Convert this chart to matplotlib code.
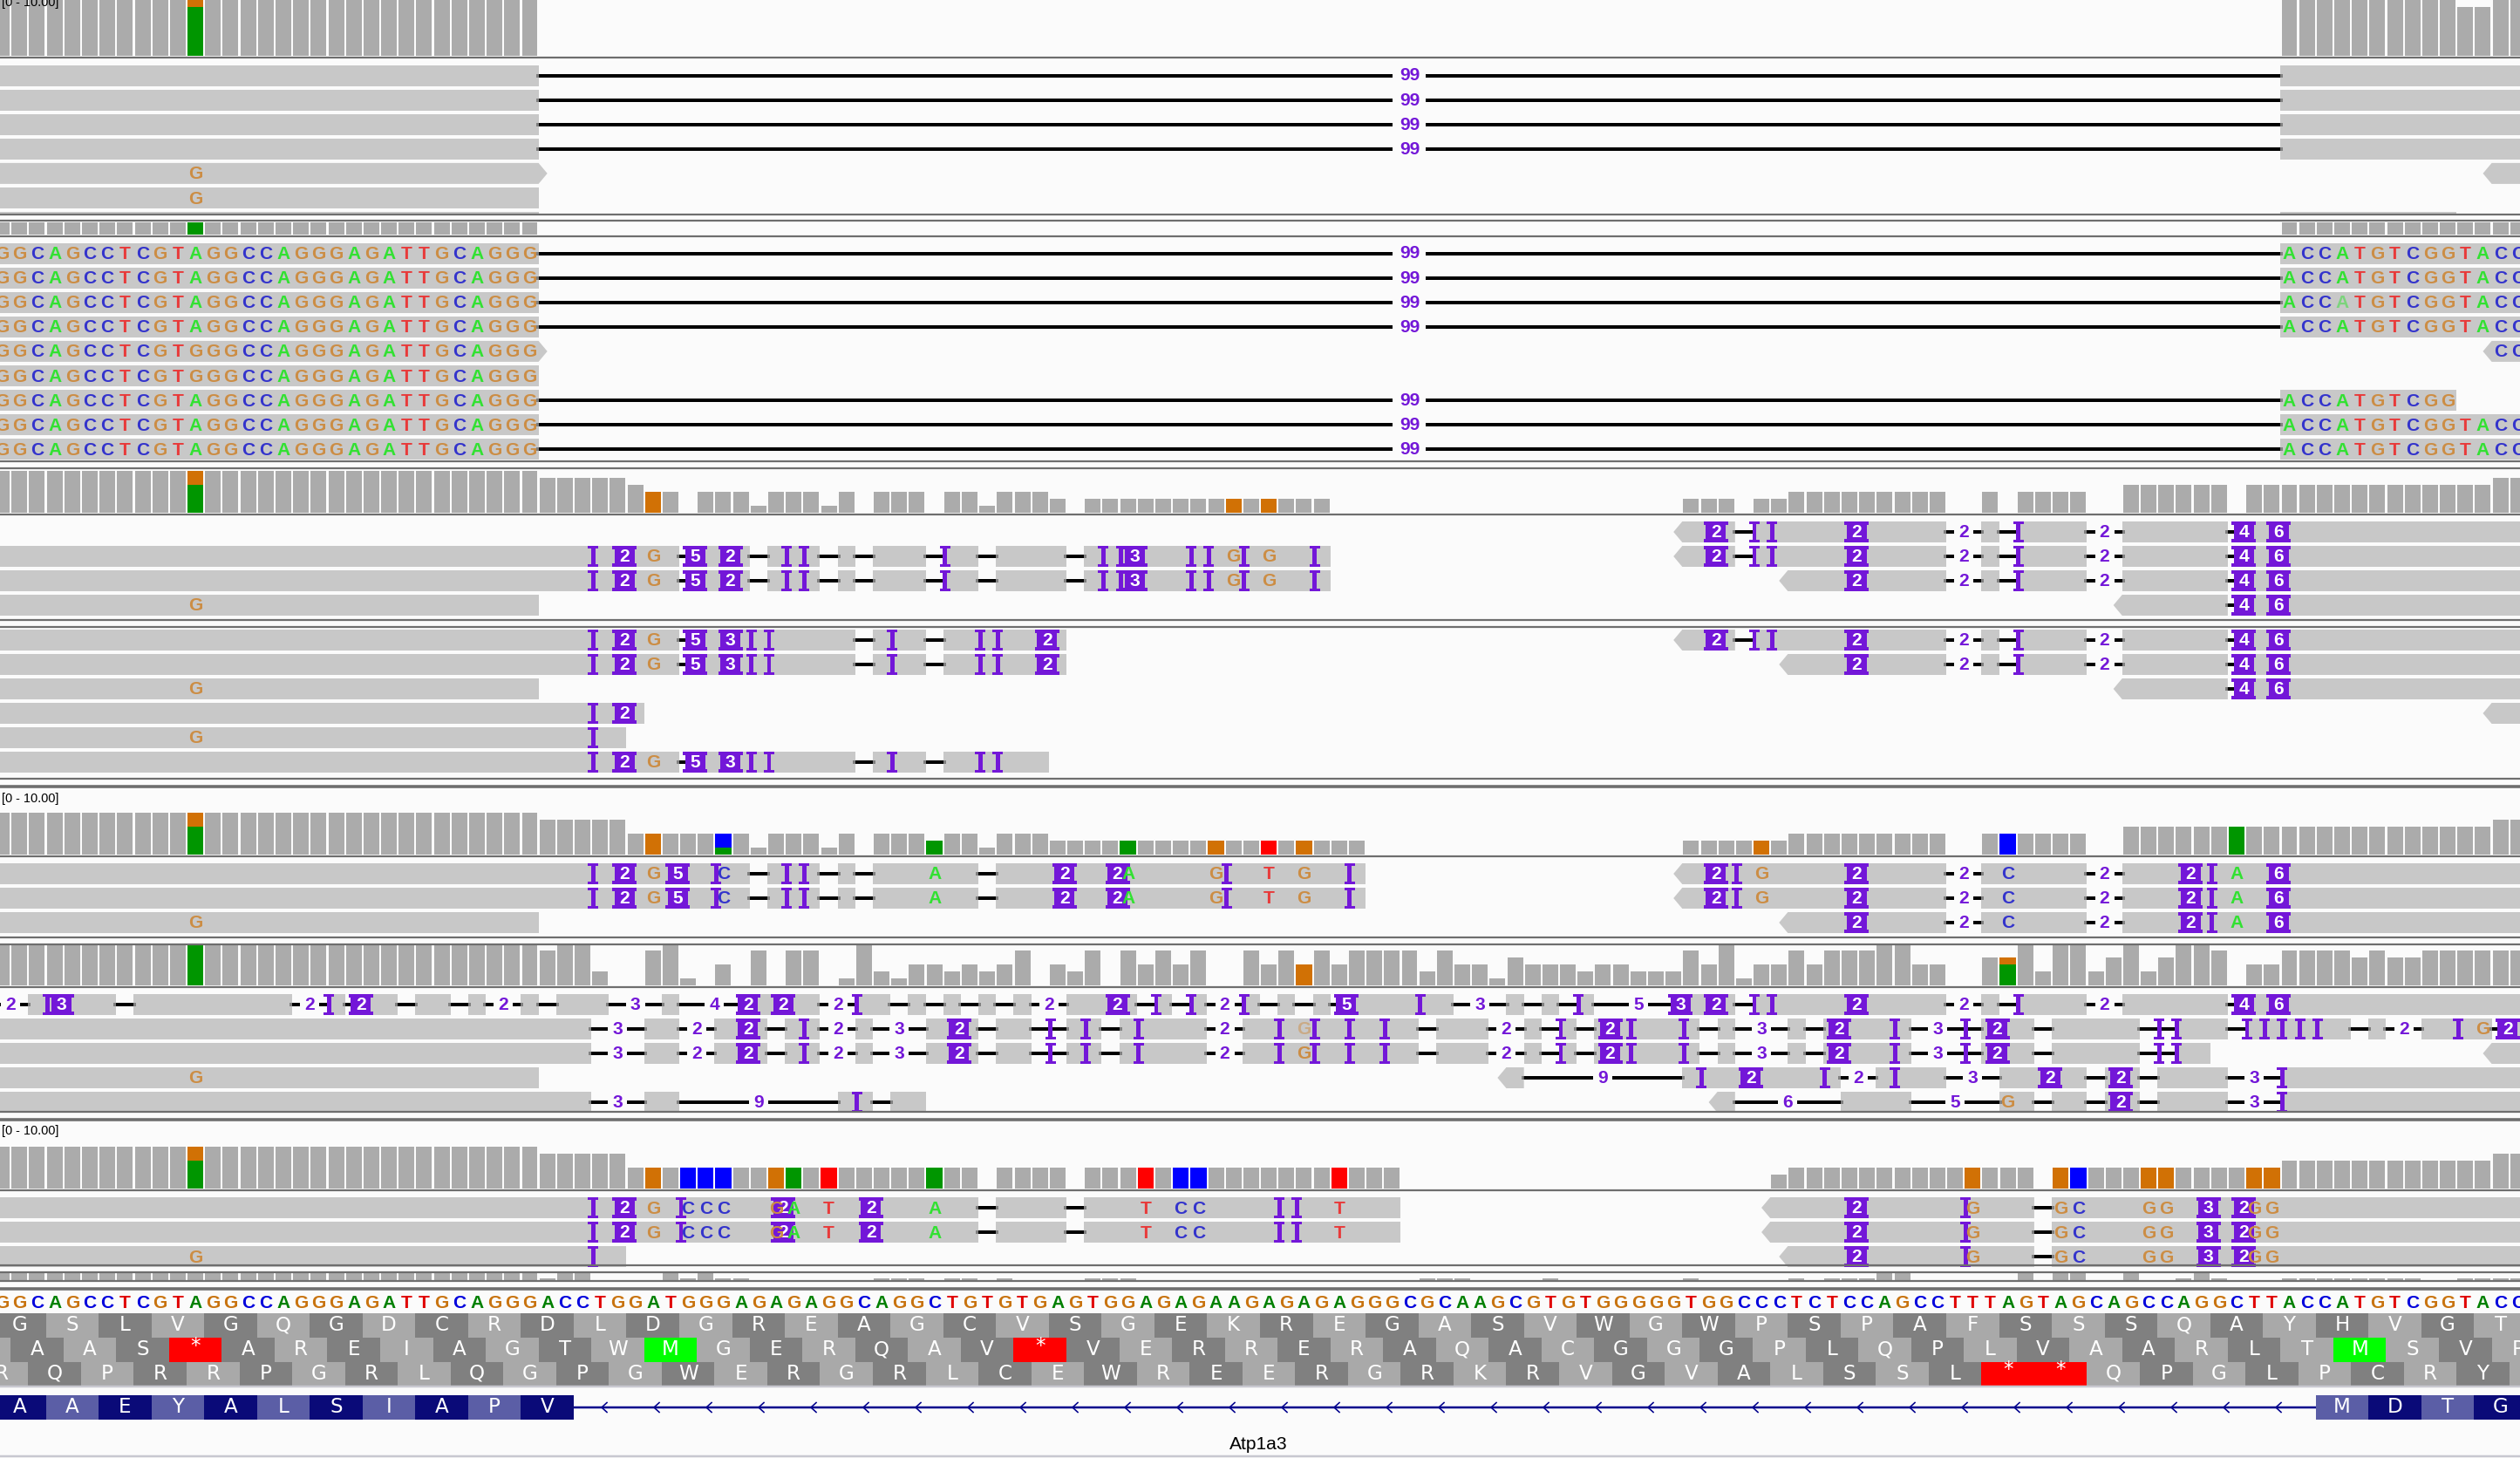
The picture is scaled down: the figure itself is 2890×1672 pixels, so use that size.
"""
Genome browser view of the Atp1a3 locus: six alignment tracks with coverage,
then the reference sequence, three-frame translation and the gene model.
"""

import numpy as np
import matplotlib
matplotlib.use("Agg")
import matplotlib.pyplot as plt
from matplotlib.patches import Polygon, Rectangle

# ── 1. Data ───────────────────────────────────────────────────────────────────

REF = ("GGCAGCCTCG" "TAGGCCAGGG" "AGATTGCAGG" "GACCTGGATG" "GGAGAGAGGC"
       "AGGCTGTGTG" "AGTGGAGAGA" "AGAGAGAGGG" "CGCAAGCGTG" "TGGGGGTGGC"
       "CCTCTCCAGC" "CTTTAGTAGC" "AGCCAGGCTT" "ACCATGTCGG" "TACC")

AA_ROW1 = "GSLVGQGDCRDLDGREAGCVSGEKREGASVWGWPSPAFSSSQAYHVGT"
AA_ROW2 = "LAAS*AREIAGTWMGERQAV*VERRERAQACGGGPLQPLVAARLTMSVP"
AA_ROW3 = "RQPRRPGRLQGPGWERGRLCEWREERGRKRVGVALSSL**QPGLPCRYT"
EXON_LEFT = "AAEYALSIAPV"
EXON_RIGHT = "MDTG"

# coverage per base, one digit per position (base 0 to 143)
COV_T1 = ("8888888888" "8888888888" "8888888888" "8000000000" "0000000000" "0000000000" "0000000000"
          "0000000000" "0000000000" "0000000000" "0000000000" "0000000000" "0000000000" "8888888888" "7788")
COV_T2 = ("8888888888" "8888888888" "8888888888" "8000000000" "0000000000" "0000000000" "0000000000"
          "0000000000" "0000000000" "0000000000" "0000000000" "0000000000" "0000000000" "8888888888" "8888")
COV_T3 = ("6666666666" "6666666666" "6666666666" "6555554330" "3331333130" "3330331333" "2022222222"
          "2222220000" "0000000000" "0000002220" "2233333333" "3003033330" "0444444044" "4444444444" "4455")
COV_T4 = ("6666666666" "6666666666" "6666666666" "6555553333" "3331333130" "3332331333" "2222222222"
          "2222222200" "0000000000" "0000002222" "2233333333" "3003333330" "0444444444" "4444444444" "4455")
COV_T5 = ("6666666666" "6666666666" "6666666666" "6566200561" "0305055016" "2133232350" "3250535350"
          "0535353555" "5253314333" "2332225361" "3353555663" "3004462662" "4624665033" "5555454455" "5555")
COV_T6 = ("6666666666" "6666666666" "6666666666" "6555553333" "3333333333" "3333330333" "3033333333"
          "3333333333" "0000000000" "0000000000" "0233333333" "3333330333" "3333333333" "4444444444" "4455")
COV_T7 = ("5555555555" "5555555555" "5555555555" "5155000051" "5110000000" "1110110100" "0011100000"
          "0000000000" "0111000010" "0000001000" "0010111550" "0000050550" "0500151000" "1111111100" "1111")

# bases that differ from the reference, bottom to top of the bar
COLOURED_T1 = {11: "AAAAAAAG"}
COLOURED_T2 = {11: "AAAAAAAA"}
COLOURED_T3 = {11: "AAAAGG", 37: "GGG", 70: "GG", 72: "GG"}
COLOURED_T4 = {11: "AAAAGG", 37: "GGG", 41: "ACC", 53: "AA", 64: "AA", 69: "GG", 72: "TT", 74: "GG",
               100: "GG", 114: "CCC", 127: "AAAA"}
COLOURED_T5 = {11: "AAAAAA", 74: "GGG", 114: "AAAG"}
COLOURED_T6 = {11: "AAAAGG", 37: "GGG", 39: "CCC", 40: "CCC", 41: "CCC", 44: "GGG", 45: "AAA", 47: "TTT",
               53: "AAA", 65: "TTT", 67: "CCC", 68: "CCC", 76: "TTT", 112: "GGG", 117: "GGG", 118: "CCC",
               122: "GGG", 123: "GGG", 128: "GGG", 129: "GGG"}


def read(blocks, ins=(), mm=(), tip=None, all_bases=False):
    return {"blocks": blocks, "ins": ins, "mm": mm, "tip": tip, "all": all_bases}


START = -1
END = 146

# Track 1 and 2 (long spliced reads)
SPLICED = [(START, 30.5), (129.5, END)]
t1_rows = [
    [read(SPLICED)], [read(SPLICED)], [read(SPLICED)], [read(SPLICED)],
    [read([(START, 30.5)], mm=[(11, "G")], tip="R"), read([(141.5, END)], tip="L")],
    [read([(START, 30.5)], mm=[(11, "G")])],
]
t2_rows = [
    [read(SPLICED, all_bases=True)], [read(SPLICED, all_bases=True)],
    [read(SPLICED, mm=[(133, "a")], all_bases=True)], [read(SPLICED, all_bases=True)],
    [read([(START, 30.5)], mm=[(11, "G")], tip="R", all_bases=True), read([(141.5, END)], tip="L", all_bases=True)],
    [read([(START, 30.5)], mm=[(11, "G")], all_bases=True)],
    [read([(START, 30.5), (129.5, 139.5)], all_bases=True)],
    [read(SPLICED, all_bases=True)], [read(SPLICED, all_bases=True)],
]

# Track 3
r3_tail = [(112.5, 113.5), (114.5, 118.5), (120.5, 126.5), (127.5, END)]
r3_tail_ins = [(105.4, "2"), (114.6, ""), (127.4, "4"), (129.4, "6")]
r3_a = read([(95.5, 98.5), (99.5, 110.5)] + r3_tail,
            ins=[(97.4, "2"), (99.6, ""), (100.6, "")] + r3_tail_ins, tip="L")
r3_b = read([(101.5, 110.5)] + r3_tail, ins=r3_tail_ins, tip="L")
r3_c = read([(120.5, 126.5), (127.5, END)], ins=[(127.4, "4"), (129.4, "6")], tip="L")
r3_d = read([(141.5, END)], tip="L")
g11 = read([(START, 30.5)], mm=[(11, "G")])
l3_a = read([(START, 38.5), (39.5, 42.5), (43.5, 46.5), (47.5, 48.5), (49.5, 52.5), (53.5, 55.5), (56.5, 60.5), (61.5, 75.5)],
            ins=[(33.6, ""), (35.4, "2"), (39.4, "5"), (41.4, "2"), (44.6, ""), (45.6, ""), (53.6, ""), (62.6, ""),
                 (63.6, ""), (64.4, "3"), (67.6, ""), (68.6, ""), (70.6, ""), (74.6, "")],
            mm=[(37, "G"), (70, "G"), (72, "G")])
l3_ins = [(33.6, ""), (35.4, "2"), (39.4, "5"), (41.4, "3"), (42.6, ""), (43.6, ""), (50.6, ""), (55.6, ""), (56.6, "")]
l3_b = read([(START, 38.5), (39.5, 48.5), (49.5, 52.5), (53.5, 60.5)], ins=l3_ins + [(59.4, "2")], mm=[(37, "G")])
l3_c = read([(START, 38.5), (39.5, 48.5), (49.5, 52.5), (53.5, 59.5)], ins=l3_ins, mm=[(37, "G")])
t3a_rows = [[r3_a], [l3_a, r3_a], [l3_a, r3_b], [g11, r3_c]]
t3b_rows = [
    [l3_b, r3_a], [l3_b, r3_b], [g11, r3_c],
    [read([(START, 36.5)], ins=[(33.6, ""), (35.4, "2")]), r3_d],
    [read([(START, 35.5)], ins=[(33.6, "")], mm=[(11, "G")])],
    [l3_c],
]

# Track 4
l4 = read([(START, 42.5), (43.5, 46.5), (47.5, 48.5), (49.5, 55.5), (56.5, 77.5)],
          ins=[(33.6, ""), (35.4, "2"), (38.4, "5"), (40.6, ""), (44.6, ""), (45.6, ""), (60.4, "2"), (63.4, "2"),
               (69.6, ""), (76.6, "")],
          mm=[(37, "G"), (41, "C"), (53, "A"), (64, "A"), (69, "G"), (72, "T"), (74, "G")])
r4_ins = [(105.4, "2"), (124.4, "2"), (125.6, ""), (129.4, "6")]
r4_a = read([(95.5, 110.5), (112.5, 118.5), (120.5, END)], ins=[(97.4, "2"), (98.6, "")] + r4_ins,
            mm=[(100, "G"), (114, "C"), (127, "A")], tip="L")
r4_b = read([(101.5, 110.5), (112.5, 118.5), (120.5, END)], ins=r4_ins, mm=[(114, "C"), (127, "A")], tip="L")
t4_rows = [[l4, r4_a], [l4, r4_a], [g11, r4_b]]

# Track 5
r5_1 = read([(START, -0.5), (1.5, 6.5), (7.5, 16.5), (18.5, 19.5), (20.5, 22.5), (23.5, 25.5), (26.5, 27.5), (29.5, 30.5),
             (31.5, 34.5), (37.5, 38.5), (42.5, 46.5), (48.5, 50.5), (51.5, 52.5), (53.5, 54.5), (55.5, 56.5), (57.5, 58.5),
             (60.5, 64.5), (65.5, 66.5), (67.5, 68.5), (70.5, 71.5), (72.5, 73.5), (74.5, 75.5), (76.5, 82.5), (85.5, 86.5),
             (87.5, 88.5), (89.5, 90.5), (95.5, 98.5), (99.5, 110.5), (112.5, 113.5), (114.5, 118.5), (120.5, 126.5),
             (127.5, END)],
            ins=[(2.6, ""), (3.4, "3"), (18.6, ""), (20.4, "2"), (42.4, "2"), (44.4, "2"), (48.6, ""), (63.4, "2"), (65.6, ""),
                 (67.6, ""), (70.6, ""), (76.4, "5"), (80.6, ""), (89.6, ""), (95.4, "3"), (97.4, "2"), (99.6, ""), (100.6, ""),
                 (105.4, "2"), (114.6, ""), (127.4, "4"), (129.4, "6")])
b5_head = [(START, 33.5), (36.5, 38.5), (40.5, 43.5), (44.5, 46.5), (48.5, 49.5), (52.5, 55.5), (56.5, 58.5), (59.5, 59.5),
           (60.5, 62.5), (63.5, 68.5), (70.5, 80.5), (81.5, 84.5), (86.5, 87.5), (88.5, 89.5), (90.5, 96.5), (97.5, 98.5),
           (101.5, 102.5), (103.5, 108.5), (111.5, 111.5), (112.5, 115.5), (116.5, 121.5), (122.5, 122.5)]
i5_head = [(42.4, "2"), (45.6, ""), (54.4, "2"), (59.6, ""), (61.6, ""), (64.6, ""), (72.6, ""), (74.6, ""), (76.6, ""), (78.6, ""),
           (88.6, ""), (91.4, "2"), (92.6, ""), (95.6, ""), (104.4, "2"), (107.6, ""), (111.6, ""), (113.4, "2"), (122.6, ""),
           (123.6, "")]
r5_2 = read(b5_head + [(123.5, 126.5), (127.5, 133.5), (134.5, 135.5), (137.5, 141.5), (142.5, END)],
            ins=i5_head + [(127.6, ""), (128.6, ""), (129.6, ""), (130.6, ""), (131.6, ""), (139.6, ""), (142.4, "2")],
            mm=[(74, "g"), (141, "G")])
r5_3 = read(b5_head + [(123.5, 125.5)], ins=i5_head, mm=[(74, "G")])
r5_4 = read([(85.5, 86.5), (95.5, 104.5), (106.5, 110.5), (113.5, 118.5), (119.5, 121.5), (122.5, 126.5), (129.5, END)],
            ins=[(96.6, ""), (99.4, "2"), (103.6, ""), (107.6, ""), (116.4, "2"), (120.4, "2"), (129.6, "")], tip="L")
r5_5l = read([(START, 33.5), (36.5, 38.5), (47.5, 49.5), (50.5, 52.5)], ins=[(48.6, "")])
r5_5r = read([(97.5, 98.5), (104.5, 108.5), (113.5, 115.5), (116.5, 118.5), (119.5, 121.5), (122.5, 126.5), (129.5, END)],
             ins=[(120.4, "2"), (129.6, "")], mm=[(114, "G")], tip="L")
t5_rows = [[r5_1], [r5_2], [r5_3, read([(141.5, END)], tip="L")], [g11, r5_4], [r5_5l, r5_5r]]

# Track 6
l6 = read([(START, 55.5), (56.5, 60.5), (61.5, 79.5)],
          ins=[(33.6, ""), (35.4, "2"), (38.6, ""), (44.4, "2"), (49.4, "2"), (72.6, ""), (73.6, "")],
          mm=[(37, "G"), (39, "C"), (40, "C"), (41, "C"), (44, "G"), (45, "A"), (47, "T"), (53, "A"), (65, "T"), (67, "C"),
              (68, "C"), (76, "T")])
r6_ins = [(105.4, "2"), (111.6, ""), (125.4, "3"), (127.4, "2")]
r6_mm = [(112, "G"), (117, "G"), (118, "C"), (122, "G"), (123, "G"), (128, "G"), (129, "G")]
r6_a = read([(100.5, 115.5), (116.5, END)], ins=r6_ins, mm=r6_mm, tip="L")
r6_b = read([(101.5, 115.5), (116.5, END)], ins=r6_ins, mm=r6_mm, tip="L")
t6_rows = [[l6, r6_a], [l6, r6_a], [read([(START, 35.5)], ins=[(33.6, "")], mm=[(11, "G")]), r6_b]]

# ── 2. Figure set-up: x in bases, y in pixels ─────────────────────────────────

W, H = 2890, 1672
PITCH = 20.18
X0 = 2.1
BG = "#fbfbfb"
BAR = "#ababab"
READ = "#b4b4b4"
PURPLE = "#7317d8"
SEP = "#6e6e6e"
PT = 0.72  # points per pixel at dpi 100

COV_COL = {"A": "#009600", "C": "#0000ff", "G": "#d17105", "T": "#ff0000"}
READ_COL = {"A": "#32e132", "C": "#3333cc", "G": "#cc8d44", "T": "#e83a3a"}
REF_COL = {"A": "#008000", "C": "#0000dc", "G": "#c8730f", "T": "#e00000"}

plt.rcParams["font.family"] = ["Liberation Sans", "DejaVu Sans"]

fig = plt.figure(figsize=(W / 100, H / 100), dpi=100, facecolor=BG)
ax = fig.add_axes([0, 0, 1, 1])
ax.set_facecolor(BG)
ax.set_xlim(-X0 / PITCH, (W - X0) / PITCH)
ax.set_ylim(H, 0)
ax.axis("off")


def px(n):
    return n / PITCH


def rect(x, y, w, h, color, z=2, **kw):
    ax.add_patch(Rectangle((x, y), w, h, fc=color, ec="none", zorder=z, **kw))


def draw_coverage(levels, coloured, bottom, top, unit=8):
    vals = np.array([int(c) for c in levels], dtype=float)
    xs = np.arange(len(vals))
    keep = (vals > 0) & ~np.isin(xs, list(coloured))
    heights = np.minimum(vals[keep] * unit, bottom - top)
    ax.bar(xs[keep], -heights, width=0.89, bottom=bottom, color=BAR, zorder=2)
    for i, bases in coloured.items():
        y = bottom
        for b in bases:
            h = min(unit, y - top)
            if h <= 0:
                break
            ax.bar(i, -h, width=0.91, bottom=y, color=COV_COL[b], zorder=2)
            y -= h


def draw_insertion(x, y, label):
    h = 24
    if label:
        rect(x - px(14), y, px(28), 4, PURPLE, 5)
        rect(x - px(14), y + h - 4, px(28), 4, PURPLE, 5)
        rect(x - px(11.5), y, px(23), h, PURPLE, 5)
        ax.text(x, y + h / 2 + 0.5, label, color="white", fontsize=21 * PT, fontweight="bold",
                ha="center", va="center", zorder=6)
    else:
        rect(x - px(6), y, px(12), 3.4, PURPLE, 5)
        rect(x - px(6), y + h - 3.4, px(12), 3.4, PURPLE, 5)
        rect(x - px(2.4), y, px(4.8), h, PURPLE, 5)


def draw_read(r, y):
    h = 24
    mid = y + h / 2
    blocks = r["blocks"]
    # grey blocks, the first or last one may carry the strand arrow
    for n, (a, b) in enumerate(blocks):
        if b <= a:
            continue
        if r["tip"] == "L" and n == 0:
            pts = [(a - 0.5, mid), (a, y), (b, y), (b, y + h), (a, y + h)]
        elif r["tip"] == "R" and n == len(blocks) - 1:
            pts = [(a, y), (b, y), (b + 0.5, mid), (b, y + h), (a, y + h)]
        else:
            pts = [(a, y), (b, y), (b, y + h), (a, y + h)]
        ax.add_patch(Polygon(pts, fc=READ, ec="none", alpha=0.713, zorder=2))
    # gaps between blocks: black line, labelled with the length from 2 bases up
    for (a0, b0), (a1, b1) in zip(blocks[:-1], blocks[1:]):
        ax.plot([b0 - 0.15, a1 + 0.15], [mid, mid], color="black", lw=4 * PT, solid_capstyle="butt", zorder=1)
        size = int(round(a1 - b0))
        if size >= 2:
            c = (a1 + b0) / 2
            label = str(size)
            width = 6 + 16 * len(label)
            rect(c - px(width / 2), y, px(width), h, BG, 3)
            ax.text(c, mid + 0.5, label, color=PURPLE, fontsize=21 * PT, fontweight="bold",
                    ha="center", va="center", zorder=4)
    # letters
    letters = {}
    if r["all"]:
        for a, b in blocks:
            for i in range(max(0, int(np.ceil(a))), min(len(REF), int(np.ceil(b)))):
                letters[i] = REF[i]
    letters.update(dict(r["mm"]))
    for i, base in letters.items():
        faded = base.islower()
        ax.text(i, mid + 1, base.upper(), color=READ_COL[base.upper()], fontsize=21 * PT, fontweight="bold",
                ha="center", va="center", alpha=0.5 if faded else 1, zorder=7)
    for x, label in r["ins"]:
        draw_insertion(x, y, label)


def draw_rows(rows, first_y, step=28):
    for n, row in enumerate(rows):
        for r in row:
            draw_read(r, first_y + n * step)


# ── 3. Alignment tracks ───────────────────────────────────────────────────────

draw_coverage(COV_T1, COLOURED_T1, 64, 0)
draw_rows(t1_rows, 74.5, step=28.1)
rect(-1, 242.5, 31.5, 2.5, READ, 2, alpha=0.713)
rect(129.5, 242.5, 10, 2.5, READ, 2, alpha=0.713)

draw_coverage(COV_T2, COLOURED_T2, 268.5, 254.5)
draw_rows(t2_rows, 278.5, step=28.1)

draw_coverage(COV_T3, COLOURED_T3, 588, 539)
draw_rows(t3a_rows, 598)
draw_rows(t3b_rows, 722)

draw_coverage(COV_T4, COLOURED_T4, 980, 904)
draw_rows(t4_rows, 990)

draw_coverage(COV_T5, COLOURED_T5, 1130, 1084)
draw_rows(t5_rows, 1140)

draw_coverage(COV_T6, COLOURED_T6, 1363, 1286)
draw_rows(t6_rows, 1373)

draw_coverage(COV_T7, {}, 1468, 1460, unit=2)

for y in [66, 245.5, 253, 270.5, 528.5, 537, 590, 710.5, 718.5, 892.5, 982, 1075, 1083, 1132, 1275, 1364.5, 1451, 1459, 1469]:
    ax.axhline(y, color=SEP, lw=2.2 * PT, zorder=8)
for y in [901.5, 1284, 1478]:
    ax.axhline(y, color=SEP, lw=3.6 * PT, zorder=8)
for y in [1590, 1670]:
    ax.axhline(y, color="#c8c8d0", lw=2.5 * PT, zorder=8)

for y in [3, 916, 1297]:
    ax.text(0.0, y, "[0 - 10.00]", color="black", fontsize=14.5 * PT, ha="left", va="center", zorder=9)

# ── 4. Reference sequence, translation, gene ──────────────────────────────────

for i, base in enumerate(REF):
    ax.text(i, 1495, base, color=REF_COL[base], fontsize=21 * PT, fontweight="bold", ha="center", va="center")


def draw_aa_row(letters, start, y, h, dark_first):
    for j, aa in enumerate(letters):
        shade = "#808080" if (j % 2 == 0) == dark_first else "#a9a9a9"
        colour = {"*": "#ff0000", "M": "#00ff00"}.get(aa, shade)
        x = start + 3 * j
        rect(x - 0.5, y, 3, h, colour, 2)
        ax.text(x + 1, y + h / 2 + (-5 if aa == "*" else 0), aa, color="white", family="DejaVu Sans",
                fontsize=23 * PT, ha="center", va="center", zorder=3)


draw_aa_row(AA_ROW1, 0, 1505.5, 28.5, True)
draw_aa_row(AA_ROW2, -2, 1534, 28, False)
draw_aa_row(AA_ROW3, -1, 1562, 27, False)


def draw_exon(letters, start, dark_first):
    for j, aa in enumerate(letters):
        shade = "#0a0a78" if (j % 2 == 0) == dark_first else "#5b5ea6"
        x = start + 3 * j
        rect(x - 0.5, 1600, 3, 28, shade, 3)
        ax.text(x + 1, 1614, aa, color="white", family="DejaVu Sans", fontsize=23 * PT,
                ha="center", va="center", zorder=4)


draw_exon(EXON_LEFT, 0, True)
draw_exon(EXON_RIGHT, 132, False)

ax.plot([32.5, 131.5], [1614, 1614], color="#00008c", lw=2.5 * PT, solid_capstyle="butt", zorder=2)
for x in np.arange(34.09, 129.6, 60 / PITCH):
    ax.plot([x + px(6), x, x + px(6)], [1608.5, 1614, 1619.5], color="#00008c", lw=1.6 * PT, zorder=2)

ax.text(71.4, 1657, "Atp1a3", color="black", fontsize=21 * PT, ha="center", va="center")

fig.savefig("out.png", dpi=100, facecolor=BG)
plt.close(fig)
